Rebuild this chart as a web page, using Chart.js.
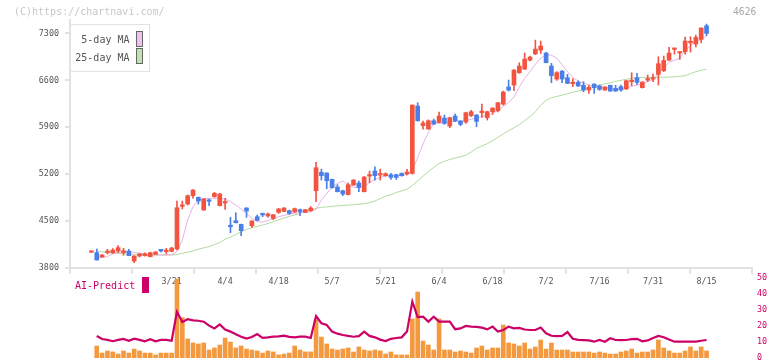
<!DOCTYPE html>
<html><head><meta charset="utf-8">
<script src="https://cdn.jsdelivr.net/npm/chart.js@4.4.1/dist/chart.umd.min.js"></script>
<style>
html,body{margin:0;padding:0;background:#fff;}
#wrap{position:relative;width:772px;height:361px;overflow:hidden;font-family:"DejaVu Sans Mono",monospace;background:#fff;}
canvas{position:absolute;left:0;top:0;}
.t{position:absolute;white-space:pre;line-height:1;}
.sw{position:absolute;box-sizing:border-box;}
</style></head><body>
<div id="wrap">
<canvas id="cA" width="772" height="300"></canvas>
<canvas id="cB" width="772" height="361"></canvas>
<div class="t" style="left:14px;top:7px;font-size:10px;color:#c8c8c8">(C)https://chartnavi.com/</div>
<div class="t" style="left:733px;top:7px;font-size:9.7px;color:#a8a8a8">4626</div>
<div class="sw" style="left:70px;top:24px;width:80px;height:48px;border:1px solid #e2e2e2;background:#fff"></div>
<div class="t" style="left:0;width:129.5px;text-align:right;top:35px;font-size:10px;color:#555">5-day MA</div>
<div class="t" style="left:0;width:129.5px;text-align:right;top:52.5px;font-size:10px;color:#555">25-day MA</div>
<div class="sw" style="left:136px;top:31px;width:7px;height:16px;border:1px solid #666;background:#f0c0ee"></div>
<div class="sw" style="left:136px;top:48px;width:7px;height:16px;border:1px solid #666;background:#c0e0b0"></div>
<div class="t" style="left:75px;top:281px;font-size:10px;color:#cc0066">AI-Predict</div>
<div class="sw" style="left:142px;top:277px;width:7px;height:16px;background:#cc0066"></div>
</div>
<script>
const tickLabels = ['3/21','4/4','4/18','5/7','5/21','6/4','6/18','7/2','7/16','7/31','8/15'];
const tickIndex = [15,25,35,45,55,65,75,85,95,105,115];
const priceTicks = [3800,4500,5200,5900,6600,7300];
const subTicks = [0,10,20,30,40,50];

const opens = [4035,4029,3964,4030,4024,4053,4029,4053,3904,3979,
3984,3969,4004,4078,4045,4048,4083,4720,4755,4879,
4854,4665,4810,4864,4730,4770,4430,4506,4451,4695,
4430,4565,4600,4575,4540,4630,4645,4655,4635,4670,
4630,4655,4953,5227,5217,5122,5008,4953,4894,5038,
5068,4938,5172,5247,5187,5177,5192,5192,5212,5202,
5212,6216,5923,5873,5997,5972,6037,5918,6067,5992,
5977,6072,6082,6117,6042,6132,6147,6246,6500,6530,
6713,6768,6902,6992,7051,7007,6813,6619,6738,6639,
6550,6569,6525,6455,6544,6515,6455,6525,6480,6505,
6470,6580,6639,6490,6604,6619,6689,6743,6902,7061,
7007,7027,7160,7141,7210,7414];
const highs = [4042,4083,4000,4078,4090,4133,4093,4078,3985,4020,
4025,4035,4045,4080,4093,4110,4799,4799,4890,4970,
4860,4840,4829,4930,4915,4839,4556,4625,4455,4700,
4505,4590,4620,4620,4600,4690,4700,4665,4695,4680,
4675,4715,5376,5276,5220,5125,5043,4960,5068,5120,
5098,5165,5247,5311,5276,5220,5212,5200,5220,5272,
6231,6266,5992,6010,6022,6126,6082,6050,6097,6000,
6125,6152,6090,6246,6140,6190,6270,6440,6604,6760,
6863,7007,6962,7200,7186,7017,6853,6730,6745,6689,
6624,6594,6579,6530,6550,6530,6505,6530,6525,6530,
6600,6713,6703,6580,6679,6694,6952,6962,7091,7080,
7027,7245,7250,7275,7385,7439];
const lows = [4033,3919,3960,4008,4020,4030,3990,3984,3879,3965,
3975,3965,4000,4039,4009,4040,4070,4680,4740,4840,
4754,4660,4730,4855,4725,4675,4327,4470,4282,4556,
4405,4505,4565,4560,4520,4615,4640,4600,4630,4580,
4625,4645,4789,5112,4983,4990,4935,4879,4890,5030,
4938,4935,5073,5112,5112,5170,5122,5120,5170,5190,
5200,5990,5873,5870,5940,5965,5943,5893,5985,5923,
5958,6060,5908,6047,6007,6092,6130,6230,6440,6445,
6705,6760,6890,6985,7000,6860,6565,6600,6564,6550,
6505,6510,6430,6405,6405,6450,6450,6435,6435,6440,
6465,6520,6540,6485,6580,6580,6530,6730,6895,6992,
6912,6992,7022,7100,7160,7265];
const closes = [4040,3919,3994,4045,4068,4103,4058,3984,3979,4009,
4014,4029,4039,4053,4058,4098,4699,4735,4878,4963,
4799,4829,4795,4914,4904,4785,4416,4476,4357,4650,
4503,4512,4592,4608,4595,4680,4695,4615,4685,4640,
4670,4695,5296,5177,5103,4998,4938,4904,5043,5112,
5003,5157,5185,5177,5200,5207,5152,5152,5177,5232,
6231,5997,5963,5997,5948,6067,5958,6042,5992,5943,
6117,6132,5987,6142,6132,6186,6266,6425,6455,6753,
6813,6917,6947,7066,7111,6863,6669,6714,6619,6554,
6560,6515,6455,6495,6490,6465,6500,6440,6440,6455,
6594,6590,6569,6574,6619,6639,6848,6897,7007,7076,
7017,7186,7170,7240,7380,7300];
const ma5 = [null,3960,3960,3969,4009,4034,4039,4043,4034,4019,4004,
3999,3994,3994,3994,3999,4043,4218,4516,4715,4814,
4834,4839,4839,4839,4830,4790,4740,4675,4615,4541,
4491,4486,4506,4541,4565,4585,4605,4615,4625,4630,
4640,4675,4814,4914,5003,5063,5098,5038,5003,4998,
5013,5073,5122,5152,5172,5177,5177,5182,5192,5250,
5450,5650,5820,5960,5960,5965,5975,5995,5990,6000,
6020,6035,6060,6080,6105,6150,6210,6270,6350,6500,
6630,6730,6840,6930,6980,6975,6930,6830,6730,6640,
6590,6560,6530,6515,6505,6495,6480,6465,6470,6480,
6510,6530,6550,6585,6615,6700,6780,6870,6900,6930,
7040,7120,7175,7215,7260];
const ma25 = [null,4058,4040,4030,4025,4020,4012,4008,4004,4000,3996,
3994,3994,3994,3994,3994,4000,4020,4035,4055,4080,
4100,4120,4150,4180,4230,4260,4300,4340,4375,4400,
4420,4440,4465,4490,4520,4545,4570,4590,4615,4640,
4660,4690,4705,4712,4720,4728,4733,4738,4745,4752,
4760,4775,4800,4835,4870,4895,4925,4950,4975,5030,
5100,5170,5240,5300,5360,5390,5420,5440,5460,5480,
5530,5585,5620,5655,5700,5750,5800,5850,5890,5940,
6000,6060,6130,6230,6300,6340,6360,6380,6400,6420,
6440,6460,6490,6510,6530,6545,6565,6585,6600,6615,
6630,6638,6642,6644,6644,6645,6646,6648,6652,6660,
6670,6700,6730,6750,6768];
const volume = [null,7.5,3.1,4.4,3.8,2.5,4.4,3.1,5.6,4.4,3.1,
3.1,1.9,3.1,3.1,3.1,49.4,25.2,11.9,9.4,8.8,
9.4,5,6.3,8.1,12.5,10,6.3,7.5,5.6,5,
4.4,3.1,4.4,3.8,1.9,2.5,3.1,7.5,5,3.8,
3.8,23.75,13.1,8.75,5.6,5,5.6,6.25,3.75,6.9,
5,4.4,5,4.4,2.5,3.75,1.9,1.9,1.9,24.4,
41.25,10.6,8.1,5,24.4,5,5,3.75,4.4,3.75,
3.1,6.25,7.5,5,6.25,6.25,20.6,9.4,8.8,7.5,
9.4,5.6,6.9,11.25,5.6,9.4,5,5,5,3.75,
3.75,3.75,3.75,3.1,3.75,3.1,2.5,2.5,3.75,4.4,
5.6,3.1,3.75,3.75,5,11.25,6.25,4.4,3.1,3.1,
4.4,6.9,4.4,6.9,4.4];
const aiPredict = [null,13.8,11.9,11.3,10.5,11.3,11.9,10.8,12.1,11.3,10.4,
11.7,10.4,11.3,11.3,10.8,28.9,22.5,24.2,23.5,23.3,
22.7,20.2,18.5,21,17.8,16.5,14.8,13.3,12.1,13.1,
15,12.6,12.9,13.4,13.5,14,13.2,12.9,13.3,13.3,
12.5,26.2,21.7,20.6,16.5,15.2,14.4,13.8,13.3,13.7,
16.5,13.8,12.9,11.5,10.6,12,12.5,12.9,16.5,35.2,
25.5,25.8,22.7,25.8,22.7,22.7,22.7,18,18.5,20,
19.6,19.4,19,17.9,19.6,16.5,17.5,19.6,18.5,18.8,
17.8,17.5,17.5,19,15.4,13.9,13.7,13.75,16.2,12,
11.3,11.2,11,10.2,11.25,10.2,12.3,11.25,11.2,11.25,
11.8,12,10.4,11,12.5,13.75,13,11.5,10.2,10.2,
10.2,10.2,10.2,10.8,11.25];

const UP = '#f25440', DOWN = '#4a7fe8';
const X_MIN = -4, X_MAX = 123.5;
const FONT = 'DejaVu Sans Mono';
const AX = '#e2e2e2';

const pts = arr => arr.map((v, i) => ({x: i, y: v}));
const candleColor = opens.map((o, i) => closes[i] >= o ? UP : DOWN);
const wicks = opens.map((o, i) => ({x: i, y: [lows[i], highs[i]]}));
const bodies = opens.map((o, i) => ({x: i, y: [Math.min(o, closes[i]), Math.max(o, closes[i])]}));

new Chart(document.getElementById('cA'), {
  type: 'line',
  data: { datasets: [
    { type: 'line', data: pts(ma5), borderColor: '#e8b0ea', borderWidth: 1, pointRadius: 0, tension: 0, xAxisID: 'x', yAxisID: 'y', order: 3 },
    { type: 'line', data: pts(ma25), borderColor: '#b2daa0', borderWidth: 1, pointRadius: 0, tension: 0, xAxisID: 'x', yAxisID: 'y', order: 4 },
    { type: 'bar', data: wicks, backgroundColor: candleColor, barThickness: 1, grouped: false, borderWidth: 0, xAxisID: 'x', yAxisID: 'y', order: 2 },
    { type: 'bar', data: bodies, backgroundColor: candleColor, barThickness: 4, minBarLength: 1.5, grouped: false, borderWidth: 0, xAxisID: 'x', yAxisID: 'y', order: 1 }
  ]},
  options: {
    responsive: false, animation: false, events: [],
    layout: { padding: { left: 0, right: 20, top: 20, bottom: 12 } },
    plugins: { legend: { display: false }, tooltip: { enabled: false } },
    scales: {
      x: { type: 'linear', axis: 'x', min: X_MIN, max: X_MAX, offset: false, position: 'bottom',
           grid: { display: false, drawTicks: false, offset: false }, border: { display: false },
           afterBuildTicks: s => { s.ticks = tickIndex.map(v => ({ value: v })); },
           afterFit: s => { s.height = 20; },
           ticks: { autoSkip: false, maxRotation: 0, padding: 9, color: '#555', font: { family: FONT, size: 8.4 },
                    callback: v => tickLabels[tickIndex.indexOf(v)] } },
      xg: { type: 'linear', axis: 'x', min: 0, max: 11, offset: false, position: { y: 3800 },
            grid: { display: true, drawOnChartArea: false, drawTicks: true, tickLength: 5, color: AX, lineWidth: 2, offset: false },
            border: { display: true, color: AX, width: 2 },
            ticks: { display: false, stepSize: 1 } },
      y: { type: 'linear', min: 3800, max: 7500, position: 'left',
           afterBuildTicks: s => { s.ticks = priceTicks.map(v => ({ value: v })); },
           afterFit: s => { s.width = 70; },
           grid: { display: true, drawOnChartArea: false, drawTicks: true, tickLength: 5, color: AX, lineWidth: 2 },
           border: { display: true, color: AX, width: 2 },
           ticks: { padding: 6, color: '#555', font: { family: FONT, size: 8.4 }, callback: v => String(v) } }
    }
  }
});

new Chart(document.getElementById('cB'), {
  type: 'line',
  data: { datasets: [
    { type: 'line', data: pts(aiPredict), borderColor: '#cc0066', borderWidth: 2.2, pointRadius: 0, tension: 0, xAxisID: 'x', yAxisID: 'y', order: 1 },
    { type: 'bar', data: pts(volume), backgroundColor: '#f39a40', barThickness: 4, grouped: false, borderWidth: 0, xAxisID: 'x', yAxisID: 'y', order: 2 }
  ]},
  options: {
    responsive: false, animation: false, events: [],
    layout: { padding: { left: 70, right: 0, top: 278, bottom: 3 } },
    plugins: { legend: { display: false }, tooltip: { enabled: false } },
    scales: {
      x: { type: 'linear', min: X_MIN, max: X_MAX, offset: false, display: false, grid: { offset: false } },
      y: { type: 'linear', min: 0, max: 50, position: 'right',
           afterBuildTicks: s => { s.ticks = subTicks.map(v => ({ value: v })); },
           afterFit: s => { s.width = 20; s.paddingTop = 0; s.paddingBottom = 0; },
           grid: { display: false, drawTicks: false }, border: { display: false },
           ticks: { padding: 5, color: '#cc0066', font: { family: FONT, size: 8.4 }, callback: v => String(v) } }
    }
  }
});
</script>
</body></html>
